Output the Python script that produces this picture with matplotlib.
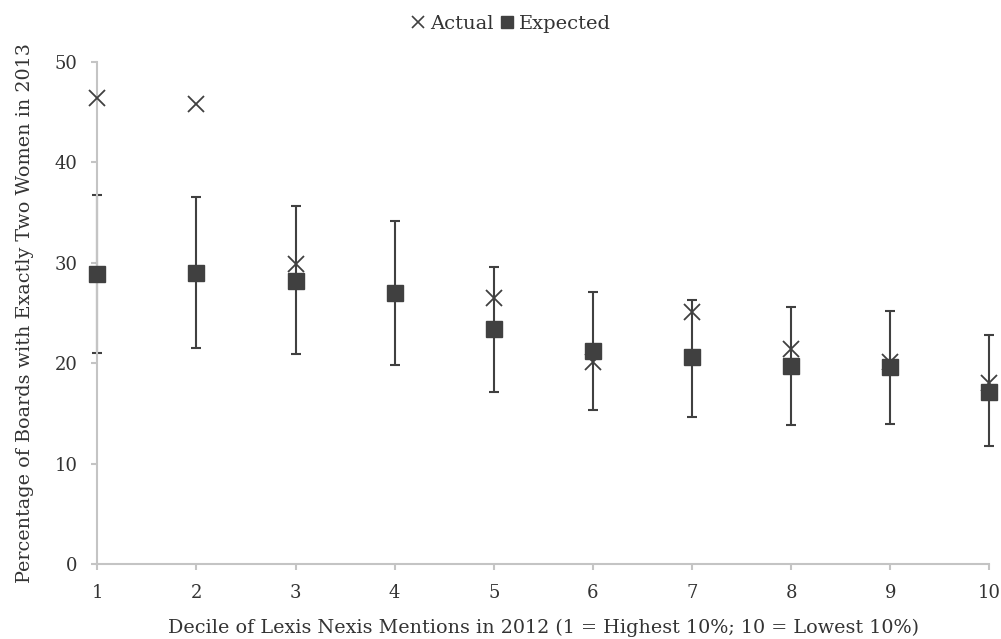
import matplotlib
matplotlib.use("Agg")
import matplotlib.pyplot as plt
from matplotlib.lines import Line2D
import numpy as np

deciles = [1, 2, 3, 4, 5, 6, 7, 8, 9, 10]
actual = [46.4, 45.8, 29.9, None, 26.5, 20.1, 25.1, 21.4, 20.1, 18.0]
expected = [28.9, 29.0, 28.2, 27.0, 23.4, 21.2, 20.6, 19.7, 19.6, 17.2]
upper = [36.8, 36.6, 35.7, 34.2, 29.6, 27.1, 26.3, 25.6, 25.2, 22.8]
lower = [21.0, 21.5, 20.9, 19.8, 17.2, 15.4, 14.7, 13.9, 14.0, 11.8]
yticks = [0, 10, 20, 30, 40, 50]

plt.rcParams['font.family'] = ['DejaVu Serif']
txt = '#333333'
mark = '#404040'
spine = '#c4c4c4'

fig = plt.figure(figsize=(10.01, 6.39), dpi=100)
ax = fig.add_axes([97.3 / 1001, 1 - 564.3 / 639, (989.3 - 97.3) / 1001, (564.3 - 62) / 639])

exp = np.array(expected)
yerr = np.array([exp - np.array(lower), np.array(upper) - exp])
ax.errorbar(deciles, expected, yerr=yerr, fmt='none', ecolor=mark, elinewidth=1.5,
            capsize=3.5, capthick=1.5, clip_on=False, zorder=2)
ax_x = [d for d, a in zip(deciles, actual) if a is not None]
ax_y = [a for a in actual if a is not None]
ax.plot(ax_x, ax_y, linestyle='none', marker='x', markersize=11.5, markeredgewidth=1.3,
        color=mark, clip_on=False, zorder=3)
ax.plot(deciles, expected, linestyle='none', marker='s', markersize=11.5,
        color=mark, clip_on=False, zorder=4)

ax.set_xlim(1, 10)
ax.set_ylim(0, 50)
ax.set_xticks(deciles)
ax.set_yticks(yticks)
for s in ['top', 'right']:
    ax.spines[s].set_visible(False)
for s in ['left', 'bottom']:
    ax.spines[s].set_color(spine)
    ax.spines[s].set_linewidth(1.5)
ax.tick_params(axis='both', colors=spine, length=4, width=1.5, labelcolor=txt, labelsize=13)
ax.tick_params(axis='y', pad=10)
ax.tick_params(axis='x', pad=10)

ax.set_xlabel('Decile of Lexis Nexis Mentions in 2012 (1 = Highest 10%; 10 = Lowest 10%)',
              fontsize=13.8, color=txt, labelpad=12.5)
ax.set_ylabel('Percentage of Boards with Exactly Two Women in 2013', fontsize=13.8,
              color=txt, labelpad=15)

handles = [Line2D([], [], linestyle='none', marker='x', markersize=8.5, markeredgewidth=1.2, color=mark),
           Line2D([], [], linestyle='none', marker='s', markersize=8, color=mark)]
fig.legend(handles, ['Actual', 'Expected'], loc='center', bbox_to_anchor=(0.511, 1 - 24 / 639),
           ncol=2, frameon=False, fontsize=14, handlelength=0.6, handletextpad=0.3,
           columnspacing=0.4, labelcolor=txt)

fig.savefig('out.png', dpi=100)
